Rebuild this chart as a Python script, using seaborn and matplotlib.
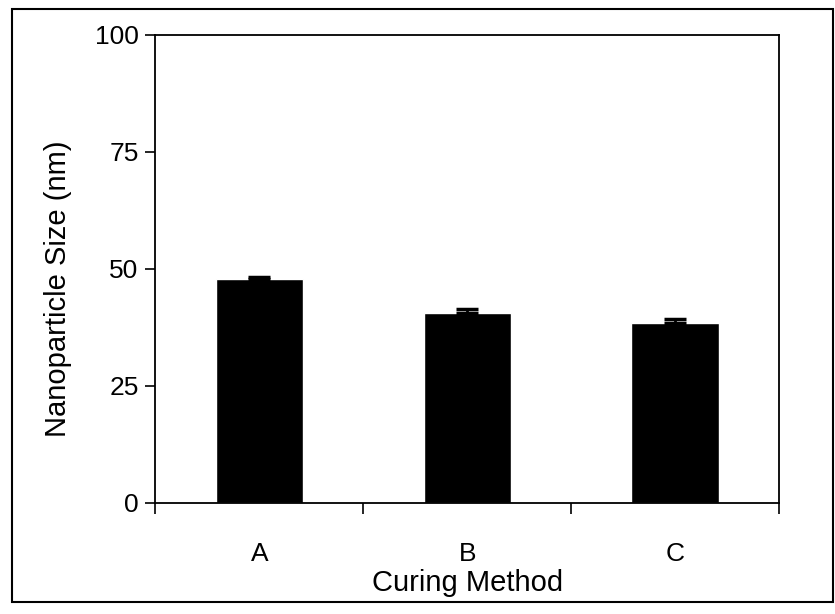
import matplotlib
matplotlib.use("Agg")
import matplotlib.pyplot as plt
import seaborn as sns
import pandas as pd
from matplotlib.patches import Rectangle

categories = ["A", "B", "C"]
sizes = [47.9, 40.6, 38.5]
errors = [0.4, 0.9, 0.9]
yticks = [0, 25, 50, 75, 100]

sns.set_style("white")
plt.rcParams["font.family"] = ["Liberation Sans", "DejaVu Sans"]
plt.rcParams["text.color"] = "black"
plt.rcParams["axes.labelcolor"] = "black"
plt.rcParams["xtick.color"] = "black"
plt.rcParams["ytick.color"] = "black"

df = pd.DataFrame({"Curing Method": categories, "Size": sizes})

fig = plt.figure(figsize=(8.35, 6.14), dpi=100)
ax = fig.add_axes([0.186, 0.181, 0.747, 0.762])

sns.barplot(data=df, x="Curing Method", y="Size", color="black",
            width=0.42, errorbar=None, ax=ax, saturation=1)
ax.errorbar(x=list(range(len(categories))), y=sizes, yerr=[[0]*len(errors), errors],
            fmt="none", ecolor="black", elinewidth=2, capsize=8, capthick=2.5)

ax.set_xlim(-0.5, len(categories) - 0.5)
ax.set_ylim(0, 100)
ax.set_yticks(yticks)
ax.set_xticks(range(len(categories)))
ax.set_xticklabels(categories)
ax.set_xticks([i + 0.5 for i in range(-1, len(categories))], minor=True)
ax.tick_params(axis="x", which="major", length=0, pad=28, labelsize=19, bottom=True)
ax.tick_params(axis="x", which="minor", length=8, width=1.2, direction="out",
               color="black", bottom=True)
ax.tick_params(axis="y", which="major", length=7, width=1.2, direction="out", color="black",
               labelsize=19, left=True, pad=5)
ax.set_xlabel("Curing Method", fontsize=21, labelpad=2)
ax.set_ylabel("Nanoparticle Size (nm)", fontsize=21)
ax.yaxis.set_label_coords(-0.133, 0.457)
for s in ax.spines.values():
    s.set_color("black")
    s.set_linewidth(1.3)
    s.set_visible(True)

fig.patches.append(Rectangle((0.014, 0.02), 0.984, 0.965, transform=fig.transFigure,
                             fill=False, edgecolor="black", linewidth=1.5))

fig.savefig("out.png", dpi=100)
